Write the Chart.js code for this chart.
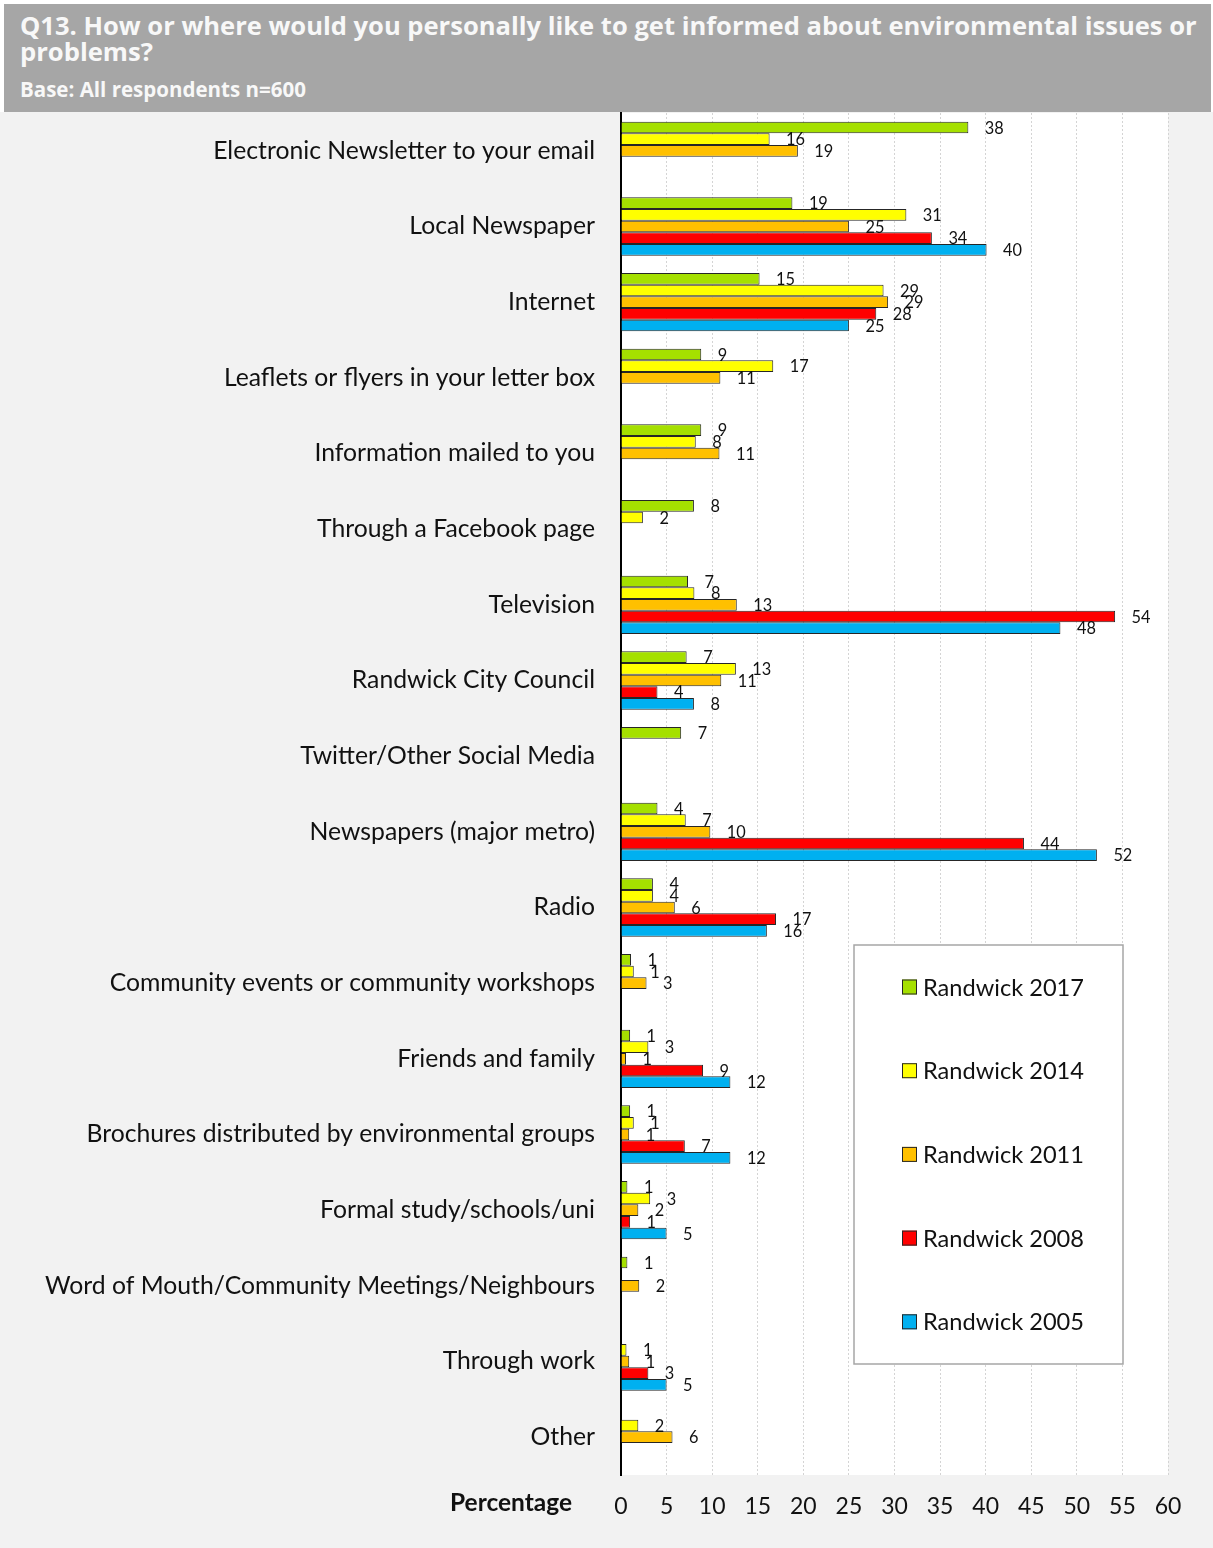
<!DOCTYPE html>
<html>
<head>
<meta charset="utf-8">
<script src="https://cdn.jsdelivr.net/npm/chart.js@4.4.1/dist/chart.umd.min.js"></script>
<style>
html,body{margin:0;padding:0;}
body{width:1213px;height:1548px;background:#ffffff;position:relative;overflow:hidden;font-family:Lato,sans-serif;}
#bg{position:absolute;left:0;top:112px;width:1213px;height:1436px;background:#f2f2f2;}
#header{position:absolute;left:4px;top:4px;width:1207px;height:108px;background:#a6a6a6;}
.ht{position:absolute;left:16px;font-family:"Open Sans",sans-serif;font-weight:bold;color:#f8f8f8;white-space:nowrap;line-height:1.362;}
#wrap{position:absolute;left:0;top:112px;width:1213px;height:1436px;}
</style>
</head>
<body>
<div id="bg"></div>
<div id="header">
  <div class="ht" id="t1">Q13. How or where would you personally like to get informed about environmental issues or</div>
  <div class="ht" id="t2">problems?</div>
  <div class="ht" id="t3">Base: All respondents n=600</div>
</div>
<div id="wrap"><canvas id="c" width="1213" height="1436"></canvas></div>
<script>
// ---------- DATA ----------
const categories = [
  'Electronic Newsletter to your email',
  'Local Newspaper',
  'Internet',
  'Leaflets or flyers in your letter box',
  'Information mailed to you',
  'Through a Facebook page',
  'Television',
  'Randwick City Council',
  'Twitter/Other Social Media',
  'Newspapers (major metro)',
  'Radio',
  'Community events or community workshops',
  'Friends and family',
  'Brochures distributed by environmental groups',
  'Formal study/schools/uni',
  'Word of Mouth/Community Meetings/Neighbours',
  'Through work',
  'Other'
];
const seriesNames = ['Randwick 2017', 'Randwick 2014', 'Randwick 2011', 'Randwick 2008', 'Randwick 2005'];
const v2017 = [38.1, 18.8, 15.2, 8.8, 8.8, 8.0, 7.35, 7.2, 6.6, 4.0, 3.5, 1.1, 1.0, 1.0, 0.7, 0.7, null, null];
const v2014 = [16.3, 31.3, 28.8, 16.7, 8.2, 2.4, 8.05, 12.6, null, 7.1, 3.5, 1.4, 3.0, 1.4, 3.2, null, 0.6, 1.9];
const v2011 = [19.4, 25.0, 29.3, 10.9, 10.8, null, 12.7, 11.0, null, 9.8, 5.9, 2.8, 0.55, 0.9, 1.9, 2.0, 0.9, 5.65];
const v2008 = [null, 34.1, 28.0, null, null, null, 54.2, 4.0, null, 44.2, 17.0, null, 9.0, 7.0, 1.0, null, 3.0, null];
const v2005 = [null, 40.1, 25.0, null, null, null, 48.2, 8.0, null, 52.2, 16.0, null, 12.0, 12.0, 5.0, null, 5.0, null];
const axisMin = 0, axisMax = 60, axisStep = 5;
const axisTitle = 'Percentage';

// ---------- STYLE ----------
const seriesColors = ['#a5e000', '#ffff00', '#ffc000', '#ff0000', '#00b0f0'];
const seriesValues = [v2017, v2014, v2011, v2008, v2005];

// font fitting helpers
const mctx = document.createElement('canvas').getContext('2d');
function fitSize(text, weight, family, target) {
  mctx.font = weight + ' 100px ' + family;
  return 100 * target / mctx.measureText(text).width;
}
const labelSize = fitSize('Electronic Newsletter to your email', 'normal', 'Lato', 382);
const legendSize = fitSize('Randwick 2017', 'normal', 'Lato', 161);
const tickSize = labelSize * 0.93;
const valueSize = labelSize * 0.66;
const titleSize = fitSize(axisTitle, 'bold', 'Lato', 122);

// header fitting
function fitHeader(id, target, baseline) {
  const el = document.getElementById(id);
  el.style.fontSize = '20px';
  const w = el.getBoundingClientRect().width;
  const fs = 20 * target / w;
  el.style.fontSize = fs + 'px';
  el.style.top = (baseline - 4 - 1.069 * fs) + 'px';
}
fitHeader('t1', 1177, 35);
fitHeader('t2', 133, 62);
fitHeader('t3', 286, 98);

// ---------- PLUGINS ----------
const plotBg = {
  id: 'plotBg',
  beforeDraw(chart) {
    const {ctx, chartArea: a} = chart;
    ctx.save();
    ctx.fillStyle = '#ffffff';
    ctx.fillRect(a.left, a.top, a.right - a.left, a.bottom - a.top);
    ctx.restore();
  }
};
const valueLabels = {
  id: 'valueLabels',
  afterDatasetsDraw(chart) {
    const ctx = chart.ctx;
    ctx.save();
    ctx.font = valueSize + 'px Lato';
    ctx.fillStyle = '#111111';
    ctx.textAlign = 'left';
    ctx.textBaseline = 'middle';
    chart.data.datasets.forEach((ds, i) => {
      const meta = chart.getDatasetMeta(i);
      meta.data.forEach((bar, j) => {
        const v = ds.data[j];
        if (v === null || v === undefined) return;
        ctx.fillText(String(Math.round(v)), bar.x + 16.5, bar.y + 1);
      });
    });
    ctx.restore();
  }
};
const boxLegend = {
  id: 'boxLegend',
  afterDraw(chart) {
    const {ctx, chartArea: a} = chart;
    const x0 = a.left + 233, y0 = a.top + 832, w = 269, h = 419;
    ctx.save();
    ctx.fillStyle = '#ffffff';
    ctx.fillRect(x0, y0, w, h);
    ctx.strokeStyle = '#a6a6a6';
    ctx.lineWidth = 1.5;
    ctx.strokeRect(x0, y0, w, h);
    ctx.font = legendSize + 'px Lato';
    ctx.textAlign = 'left';
    ctx.textBaseline = 'middle';
    chart.data.datasets.forEach((ds, i) => {
      const cy = y0 + 42 + i * 83.7;
      ctx.fillStyle = ds.backgroundColor;
      ctx.fillRect(x0 + 48, cy - 7.5, 15, 15);
      ctx.strokeStyle = '#262626';
      ctx.lineWidth = 1;
      ctx.strokeRect(x0 + 48.5, cy - 7, 14, 14);
      ctx.fillStyle = '#111111';
      ctx.fillText(ds.label, x0 + 69, cy + 1);
    });
    ctx.restore();
  }
};
const sideTitle = {
  id: 'sideTitle',
  afterDraw(chart) {
    const {ctx, chartArea: a} = chart;
    ctx.save();
    ctx.font = 'bold ' + titleSize + 'px Lato';
    ctx.fillStyle = '#111111';
    ctx.textAlign = 'right';
    ctx.textBaseline = 'middle';
    ctx.fillText(axisTitle, a.left - 49, a.bottom + 28);
    ctx.restore();
  }
};

// ---------- CHART ----------
new Chart(document.getElementById('c'), {
  type: 'bar',
  data: {
    labels: categories,
    datasets: seriesNames.map((name, i) => ({
      label: name,
      data: seriesValues[i],
      backgroundColor: seriesColors[i],
      borderColor: '#262626',
      borderWidth: 1,
      categoryPercentage: 0.77,
      barPercentage: 1.0
    }))
  },
  options: {
    indexAxis: 'y',
    responsive: false,
    animation: false,
    maintainAspectRatio: false,
    layout: {padding: {top: 1, right: 45, left: 0, bottom: 0}},
    plugins: {
      legend: {display: false},
      tooltip: {enabled: false},
      title: {display: false}
    },
    scales: {
      x: {
        min: axisMin, max: axisMax,
        ticks: {stepSize: axisStep, font: {family: 'Lato', size: tickSize}, color: '#111111', padding: 18},
        grid: {color: '#d4d4d4', lineWidth: 1, drawTicks: false},
        border: {display: false, dash: [2, 2]},
        afterFit(scale) { scale.height = 73; }
      },
      y: {
        ticks: {font: {family: 'Lato', size: labelSize}, color: '#111111', padding: 26},
        grid: {display: false, drawTicks: false},
        border: {display: true, color: '#000000', width: 2},
        afterFit(scale) { scale.width = 621; scale.paddingTop = 0; scale.paddingBottom = 0; }
      }
    }
  },
  plugins: [plotBg, valueLabels, boxLegend, sideTitle]
});
</script>
</body>
</html>
